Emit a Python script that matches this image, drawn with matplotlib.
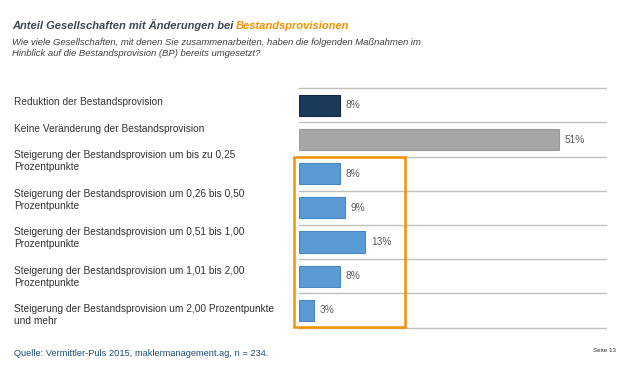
import matplotlib.pyplot as plt
from matplotlib.patches import Rectangle

plt.rcParams['font.family'] = ['Liberation Sans', 'DejaVu Sans']

categories = [
    "Reduktion der Bestandsprovision",
    "Keine Veränderung der Bestandsprovision",
    "Steigerung der Bestandsprovision um bis zu 0,25\nProzentpunkte",
    "Steigerung der Bestandsprovision um 0,26 bis 0,50\nProzentpunkte",
    "Steigerung der Bestandsprovision um 0,51 bis 1,00\nProzentpunkte",
    "Steigerung der Bestandsprovision um 1,01 bis 2,00\nProzentpunkte",
    "Steigerung der Bestandsprovision um 2,00 Prozentpunkte\nund mehr",
]
values = [8, 51, 8, 9, 13, 8, 3]
colors = ["#1b3a5a", "#a6a6a6", "#5b9bd5", "#5b9bd5", "#5b9bd5", "#5b9bd5", "#5b9bd5"]
edges = ["#10263d", "#9a9a9a", "#4a86c0", "#4a86c0", "#4a86c0", "#4a86c0", "#4a86c0"]

W, H = 621, 383
fig = plt.figure(figsize=(W / 100, H / 100), dpi=100)

# axes placed in pixel coords: x 299..606, y 88..327
ax = fig.add_axes([299 / W, 1 - 327.5 / H, (606 - 299) / W, (327.5 - 88.3) / H])
n = len(values)
ypos = list(range(n))
ax.barh(ypos, values, height=0.62, color=colors, edgecolor=edges, linewidth=0.8, zorder=3)
ax.set_ylim(n - 0.5, -0.5)
ax.set_xlim(0, (606 - 299) / 5.1)
for y, v in zip(ypos, values):
    ax.text(v + 1.1, y, f"{v}%", va="center", ha="left", fontsize=7.3, color="#595959")

# gridlines between rows
for b in range(n + 1):
    ax.axhline(b - 0.5, color="#bfbfbf", lw=1, zorder=1, clip_on=False)
for s in ax.spines.values():
    s.set_visible(False)
ax.set_xticks([])
ax.set_yticks([])

# category labels in the left column
label_y = [102.3, 129] + [161.3 + 38.4 * i for i in range(5)]
for lab, yy in zip(categories, label_y):
    fig.text(14 / W, 1 - yy / H, lab, ha="left", va="center", fontsize=7.3,
             color="#333333", linespacing=1.25)

# orange highlight box
fig.patches.append(Rectangle((293.5 / W, 1 - 327 / H), (405 - 293.5) / W, (327 - 157) / H,
                             transform=fig.transFigure, fill=False, edgecolor="#f39200",
                             lw=1.8, zorder=5))

# title, two colours on one baseline
t1 = fig.text(12 / W, 1 - 29 / H, "Anteil Gesellschaften mit Änderungen bei", ha="left",
              va="baseline", fontsize=8.0, fontweight="bold", fontstyle="italic", color="#3f4652")
fig.canvas.draw()
bb = t1.get_window_extent()
fig.text((bb.x1 + 2.5) / W, 1 - 29 / H, "Bestandsprovisionen", ha="left", va="baseline",
         fontsize=8.0, fontweight="bold", fontstyle="italic", color="#f39200")
fig.text(12 / W, 1 - 48 / H,
         "Wie viele Gesellschaften, mit denen Sie zusammenarbeiten, haben die folgenden Maßnahmen im\n"
         "Hinblick auf die Bestandsprovision (BP) bereits umgesetzt?",
         ha="left", va="center", fontsize=6.8, fontstyle="italic", color="#404040", linespacing=1.4)

fig.text(14 / W, 1 - 354 / H, "Quelle: Vermittler-Puls 2015, maklermanagement.ag, n = 234.",
         ha="left", va="center", fontsize=6.65, color="#1f4e79")
fig.text(593 / W, 1 - 351 / H, "Seite 13", ha="left", va="center", fontsize=4.5, color="#333333")

fig.savefig("out.png", dpi=100)
